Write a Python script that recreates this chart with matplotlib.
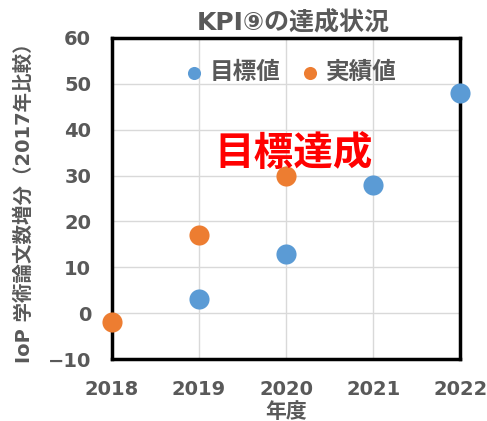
import matplotlib
matplotlib.use("Agg")
import matplotlib.pyplot as plt

plt.rcParams['font.family'] = ['DejaVu Sans', 'Noto Sans CJK JP']
plt.rcParams['font.weight'] = 'bold'

# Data ---------------------------------------------------------------
years_target = [2019, 2020, 2021, 2022]
target = [3, 13, 28, 48]
years_actual = [2018, 2019, 2020]
actual = [-2, 17, 30]

xticks = [2018, 2019, 2020, 2021, 2022]
yticks = [-10, 0, 10, 20, 30, 40, 50, 60]

grey = "#595959"
blue = "#5B9BD5"
orange = "#ED7D31"

fig = plt.figure(figsize=(4.87, 4.21), dpi=100)
ax = fig.add_axes([0.23, 0.147, 0.715, 0.763])

ax.scatter(years_target, target, s=210, color=blue, label="目標値",
           clip_on=False, zorder=3, linewidths=0)
ax.scatter(years_actual, actual, s=210, color=orange, label="実績値",
           clip_on=False, zorder=3, linewidths=0)

ax.set_xlim(2018, 2022)
ax.set_ylim(-10, 60)
ax.set_xticks(xticks)
ax.set_yticks(yticks)
ax.grid(True, color="#D9D9D9", linewidth=1)
ax.set_axisbelow(True)
ax.tick_params(length=0, labelsize=14, labelcolor=grey, pad=15)
for lab in ax.get_xticklabels() + ax.get_yticklabels():
    lab.set_fontweight('bold')

for sp in ax.spines.values():
    sp.set_linewidth(2.5)
    sp.set_color("black")

ax.set_title("KPI⑨の達成状況", fontsize=18, color=grey,
             fontweight='bold', pad=5, x=0.52)
ax.set_xlabel("年度", fontsize=15, color=grey, fontweight='bold', labelpad=2)
ax.set_ylabel("IoP 学術論文数増分（2017年比較）", fontsize=14, color=grey,
              fontweight='bold', labelpad=10)

ax.legend(loc="center", bbox_to_anchor=(0.515, 0.894), ncol=2,
          frameon=False, labelcolor=grey, handlelength=0.7,
          handletextpad=0.3, columnspacing=0.9, markerscale=0.65,
          prop={'weight': 'bold', 'size': 17})

ax.text(2020.09, 34.7, "目標達成", color="#FF0000", fontsize=28.5,
        fontweight='bold', ha="center", va="center")

fig.savefig("out.png", dpi=100)
